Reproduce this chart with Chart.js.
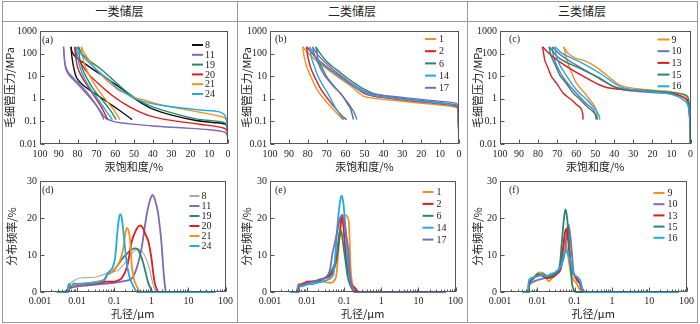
<!DOCTYPE html>
<html lang="zh">
<head>
<meta charset="UTF-8">
<title>储层毛细管压力与孔径分布</title>
<script src="https://cdn.jsdelivr.net/npm/chart.js"></script>
<style>
  body { margin: 0; background: #fff; }
  #wrap { position: relative; width: 700px; height: 324px; overflow: hidden; }
  .ln { position: absolute; background: #9a9a9a; }
  .head { position: absolute; top: 2px; height: 19px; line-height: 19px; text-align: center;
          font: 12px "Noto Sans CJK SC"; color: #222; }
  canvas { position: absolute; }
</style>
</head>
<body>
<div id="wrap">
  <div class="ln" style="left:2px;top:1px;width:696px;height:1px"></div>
  <div class="ln" style="left:2px;top:21px;width:696px;height:1px"></div>
  <div class="ln" style="left:2px;top:322px;width:696px;height:1px"></div>
  <div class="ln" style="left:2px;top:1px;width:1px;height:322px"></div>
  <div class="ln" style="left:237px;top:1px;width:1px;height:322px"></div>
  <div class="ln" style="left:467px;top:1px;width:1px;height:322px"></div>
  <div class="ln" style="left:697px;top:1px;width:1px;height:322px"></div>
  <div class="head" style="left:2px;width:235px">一类储层</div>
  <div class="head" style="left:237px;width:230px">二类储层</div>
  <div class="head" style="left:467px;width:230px">三类储层</div>
  <canvas id="ca"></canvas>
  <canvas id="cb"></canvas>
  <canvas id="cc"></canvas>
  <canvas id="cd"></canvas>
  <canvas id="ce"></canvas>
  <canvas id="cf"></canvas>
</div>

<script>
// 刻度
const pressureTicks = [0.01, 0.1, 1, 10, 100, 1000];
const pressureLabels = ['0.01', '0.1', '1', '10', '100', '1000'];
const poreTicks = [0.001, 0.01, 0.1, 1, 10, 100];
const poreLabels = ['0.001', '0.01', '0.1', '1', '10', '100'];

// 样品编号
const samplesA = ['8', '11', '19', '20', '21', '24'];
const samplesB = ['1', '2', '6', '14', '17'];
const samplesC = ['9', '10', '13', '15', '16'];

// (a) 一类储层 毛管压力曲线 [汞饱和度 %, 压力 MPa]
const a8_inj = [[0,0.01],[0.3,0.05],[1.5,0.075],[8,0.09],[17,0.11],[30,0.19],[40,0.35],[46,0.65],[51,1.2],[56,2.6],[63,6.5],[70,16],[76,35],[81,70],[83,120],[83.5,200]];
const a8_wd = [[83.5,200],[83,70],[82,22],[80.5,8.5],[77,4],[72,2],[65,0.8],[58,0.32],[51,0.12]];
const a11_inj = [[0,0.012],[0.3,0.022],[1.5,0.033],[10,0.043],[25,0.052],[40,0.063],[50,0.075],[56,0.085],[61,0.1],[65,0.14],[68,0.3],[72,0.9],[77,3],[82,8],[85,15],[86.5,30],[87,70],[87.5,200]];
const a11_wd = [[87.5,200],[87.2,80],[86.8,35],[86,18],[84,10],[80,4.5],[75,1.6],[70,0.5],[67.5,0.22],[66,0.12]];
const a19_inj = [[0,0.01],[0.3,0.05],[1.5,0.085],[5,0.1],[17,0.13],[34,0.3],[44,0.6],[50,1.2],[55,2.4],[62,8],[68,22],[74,50],[78,110],[79.5,200]];
const a19_wd = [[79.5,200],[79,70],[77.5,22],[75,8],[71.5,2.6],[67,0.9],[63,0.35],[59.5,0.12]];
const a20_inj = [[0,0.01],[0.3,0.035],[2,0.05],[15,0.075],[33,0.12],[42,0.18],[50,0.35],[55,0.6],[61,1.3],[68,4],[74,12],[78,35],[80.5,90],[81.5,200]];
const a20_wd = [[81.5,200],[81,70],[80,25],[78,10],[74.5,3.5],[70.5,1.1],[67,0.38],[64,0.12]];
const a21_inj = [[0,0.01],[0.3,0.07],[1.5,0.14],[6,0.18],[24,0.35],[36,0.55],[44,0.85],[50,1.15],[55,1.8],[59,2.7],[64,6],[68,13],[72,30],[75,70],[77,130],[78,200]];
const a21_wd = [[78,200],[77.3,70],[75.5,22],[72.5,7],[69,2.5],[65,0.9],[61,0.35],[57.5,0.12]];
const a24_inj = [[0,0.01],[0.2,0.05],[0.8,0.12],[2,0.2],[5,0.27],[15,0.32],[33,0.48],[43,0.68],[50,1.05],[55,1.9],[59,3],[63,6.5],[68,14],[72,28],[76,60],[79,120],[80.5,200]];
const a24_wd = [[80.5,200],[80,70],[78.5,22],[76,7],[72.5,2.3],[68.5,0.8],[65,0.3],[61.5,0.12]];

// (b) 二类储层
const b1_inj = [[0,0.01],[0.3,0.08],[0.8,0.38],[3,0.45],[15,0.58],[30,0.78],[45,1.05],[50,1.25],[53,1.8],[57,3.5],[62,7],[68,16],[74,40],[79,90],[82.7,200]];
const b1_wd = [[82.7,200],[82,80],[80.5,25],[78,8],[75,2.5],[70,0.7],[65,0.25],[61.5,0.12]];
const b2_inj = [[0,0.01],[0.3,0.09],[0.8,0.42],[3,0.5],[15,0.66],[30,0.9],[45,1.3],[50,1.7],[54,2.8],[59,5.5],[65,13],[71,30],[76,70],[80.6,200]];
const b2_wd = [[80.6,200],[80,75],[78.5,24],[76,8],[73,2.6],[69,0.9],[65,0.35],[62,0.18],[59.5,0.12]];
const b6_inj = [[0,0.01],[0.3,0.1],[0.8,0.48],[3,0.57],[15,0.75],[30,1.05],[45,1.7],[50,2.6],[55,4.8],[60,9.5],[65,20],[70,45],[73,90],[75.7,200]];
const b6_wd = [[75.7,200],[75,100],[74.5,49],[72,20],[70,9.3],[66,3.5],[62,1.5],[59,0.6],[57.5,0.38],[56.5,0.2],[55.8,0.12]];
const b14_inj = [[0,0.01],[0.3,0.09],[0.8,0.45],[3,0.53],[15,0.7],[30,0.95],[45,1.4],[50,1.9],[55,3.2],[60,6],[66,14],[72,32],[76,75],[79,200]];
const b14_wd = [[79,200],[78.3,80],[77,35],[75,12],[72.7,4.9],[69,1.5],[65.7,0.45],[62.5,0.18],[61,0.12]];
const b17_inj = [[0,0.01],[0.3,0.1],[0.8,0.55],[2.5,0.66],[15,0.85],[30,1.15],[45,1.6],[50,2.2],[55,3.8],[60,7.5],[66,18],[71,42],[75,95],[77.5,200]];
const b17_wd = [[77.5,200],[76.5,90],[74,30],[71.8,13],[67,4],[63,1.8],[59,0.7],[57,0.4],[55.5,0.25],[54,0.12]];

// (c) 三类储层
const c9_inj = [[0,0.01],[0.3,0.1],[1,0.6],[2.3,1.25],[8,1.9],[16,2.3],[27,2.7],[33,3.2],[38,4.5],[44,11],[50,27],[56,50],[60,62],[64,95],[66.5,200]];
const c9_wd = [[66.5,200],[65.5,80],[64.2,35],[62,12],[59.9,4.9],[56,2],[52.9,0.93],[50.5,0.5],[49.4,0.3],[48.8,0.12]];
const c10_inj = [[0,0.01],[0.3,0.1],[1,0.5],[2.3,1.0],[10,1.6],[20,1.9],[30,2.2],[38,2.8],[44,5],[50,10],[57,22],[64,50],[69,100],[72.5,200]];
const c10_wd = [[72.5,200],[71.8,70],[69.5,22],[66.5,8],[61,2.2],[55,0.65],[51,0.33],[50,0.2],[49.5,0.12]];
const c13_inj = [[0,0.01],[0.3,0.08],[1,0.45],[1.6,0.85],[7.5,1.6],[16,1.9],[25,2.2],[33,2.5],[39,2.7],[46,3.6],[54.6,8.3],[63.4,22],[72,70],[77.7,200]];
const c13_wd = [[77.7,200],[77,90],[76.4,49],[74.5,20],[72.9,9.3],[70,4.5],[66.9,1.8],[62.5,0.9],[59.9,0.56],[57.5,0.38],[56.6,0.22],[56.4,0.12]];
const c15_inj = [[0,0.01],[0.3,0.12],[0.8,0.7],[2,1.4],[10,1.9],[20,2.2],[30,2.5],[36,2.8],[41,3.7],[47.6,8.3],[58,22],[68.6,60],[74.2,200]];
const c15_wd = [[74.2,200],[73.5,100],[72.9,69],[70.5,25],[68.6,11],[65,4.5],[61.6,1.8],[57.5,0.85],[54.6,0.48],[51,0.26],[49.5,0.18],[49,0.12]];
const c16_inj = [[0,0.01],[0.3,0.08],[1,0.4],[2.5,0.75],[10,1.6],[20,2.0],[30,2.5],[35,3],[39,4.3],[47.6,13.5],[58,43],[67.2,100],[71.2,200]];
const c16_wd = [[71.2,200],[70.3,69],[68.5,30],[66.9,18],[63.5,6.5],[59.9,2.5],[55,1.0],[52,0.56],[49.5,0.3],[48,0.18],[47.6,0.12]];

// (d)(e)(f) 孔径分布 [孔径 μm, 分布频率 %]
const d8 = [[0.005,0],[0.006,1.5],[0.007,2.5],[0.009,3.3],[0.012,3.8],[0.02,3.9],[0.03,4.0],[0.045,4.5],[0.065,5.2],[0.1,5.5],[0.13,5.9],[0.2,8],[0.3,10.5],[0.42,11.6],[0.5,11.4],[0.6,10.6],[0.7,9.3],[0.85,7],[1.0,4.1],[1.15,1.5],[1.3,0.3],[1.4,0],[50,0]];
const d11 = [[0.0045,0],[0.0055,0.6],[0.007,1.2],[0.01,1.5],[0.02,1.8],[0.05,2.2],[0.1,2.5],[0.2,3.0],[0.3,3.7],[0.41,6.7],[0.55,12],[0.68,18.2],[0.85,23.5],[1.06,26.2],[1.25,25],[1.5,21.7],[1.7,17.5],[1.86,13.8],[2.05,8],[2.2,4.1],[2.4,0.6],[2.5,0],[50,0]];
const d19 = [[0.005,0],[0.0058,0],[0.006,2],[0.007,1.4],[0.009,2],[0.015,2.2],[0.03,2.6],[0.053,3.3],[0.063,4.6],[0.08,5.2],[0.1,6],[0.13,7.5],[0.18,9.5],[0.24,10.7],[0.3,11.5],[0.37,11.8],[0.43,11.5],[0.5,10.3],[0.6,8],[0.68,5.9],[0.83,2.4],[1.0,0.6],[1.1,0],[50,0]];
const d20 = [[0.0055,0],[0.006,1.8],[0.0068,1.2],[0.008,1.8],[0.012,2.0],[0.02,2.1],[0.04,2.4],[0.06,2.8],[0.1,2.8],[0.13,3.2],[0.16,3.7],[0.22,6.7],[0.3,13.8],[0.4,17],[0.5,18],[0.6,17.2],[0.7,15.5],[0.83,13.8],[1.0,9.4],[1.1,6],[1.24,2.4],[1.4,0.8],[1.6,0],[50,0]];
const d21 = [[0.005,0],[0.0058,0],[0.006,2],[0.007,1.5],[0.009,2],[0.015,2.3],[0.03,2.7],[0.055,3.4],[0.065,4.8],[0.09,5.6],[0.12,7],[0.15,9],[0.18,12.5],[0.2,16],[0.22,17.3],[0.245,16.5],[0.27,13.8],[0.3,6.7],[0.34,3.5],[0.37,2.4],[0.45,0.6],[0.5,0],[50,0]];
const d24 = [[0.0028,0],[0.0055,0],[0.006,2.2],[0.007,1.5],[0.008,2.3],[0.01,2.2],[0.02,2.3],[0.04,2.7],[0.055,3.3],[0.065,4.8],[0.075,5.6],[0.09,6.5],[0.105,9],[0.12,15.5],[0.135,20],[0.147,21],[0.16,20],[0.18,15.5],[0.22,7.6],[0.26,4],[0.3,2.4],[0.37,0.6],[0.42,0],[54,0]];

const e1 = [[0.0045,0],[0.0052,0],[0.0058,2],[0.007,2.2],[0.01,2.6],[0.015,2.7],[0.02,2.8],[0.025,3.2],[0.03,2.7],[0.04,2.5],[0.05,2.7],[0.06,4],[0.066,8],[0.072,13],[0.08,17.5],[0.09,20.5],[0.1,20.8],[0.12,20.5],[0.133,19],[0.14,14],[0.148,7],[0.16,3],[0.18,1.2],[0.22,0.3],[0.25,0],[54,0]];
const e2 = [[0.005,0],[0.0058,0],[0.006,1.8],[0.007,2],[0.01,2.8],[0.015,2.9],[0.02,3],[0.025,3.5],[0.03,3.7],[0.04,4.2],[0.05,5.5],[0.06,8],[0.065,10.3],[0.075,15],[0.085,20.4],[0.095,18],[0.1,15],[0.11,10.3],[0.125,6],[0.14,4.1],[0.16,1.9],[0.2,1],[0.22,0.4],[0.25,0],[54,0]];
const e6 = [[0.005,0],[0.0058,0],[0.006,2],[0.007,1.8],[0.01,2.4],[0.015,2.8],[0.02,3.2],[0.03,3.8],[0.04,4.8],[0.05,6.5],[0.059,8.5],[0.068,13],[0.077,16.8],[0.085,16],[0.095,12.5],[0.108,8.5],[0.125,4],[0.15,1.5],[0.18,0.3],[0.2,0],[54,0]];
const e14 = [[0.0035,0],[0.005,0],[0.0058,0.5],[0.0062,1.8],[0.007,1.5],[0.01,2],[0.015,2.2],[0.02,2.5],[0.03,3],[0.04,3.5],[0.05,4.5],[0.056,8.5],[0.065,17.3],[0.075,23.5],[0.085,26],[0.095,24],[0.108,17.3],[0.12,10],[0.133,5.9],[0.15,2.5],[0.18,0.6],[0.2,0],[54,0]];
const e17 = [[0.005,0],[0.0058,0],[0.006,1.5],[0.007,1.8],[0.01,2.3],[0.015,2.8],[0.02,3.3],[0.03,3.8],[0.04,5.5],[0.048,10.3],[0.058,14],[0.065,16.5],[0.075,19.5],[0.088,20.8],[0.1,19],[0.115,15],[0.13,11],[0.14,6],[0.155,2],[0.17,0.5],[0.19,0],[54,0]];

const f9 = [[0.0045,0],[0.0055,0],[0.006,2.5],[0.007,3.3],[0.008,3.6],[0.01,5],[0.014,5.2],[0.017,4],[0.02,2.9],[0.025,3.8],[0.03,4.5],[0.038,6],[0.045,9.5],[0.05,12.5],[0.055,14],[0.06,12.5],[0.07,8.5],[0.08,5],[0.095,3.2],[0.11,2.5],[0.13,1],[0.15,0.2],[0.17,0],[60,0]];
const f10 = [[0.005,0],[0.0058,0],[0.0062,2],[0.008,2.8],[0.01,3.2],[0.014,3.6],[0.02,4],[0.025,4],[0.03,4.5],[0.04,5.5],[0.047,8],[0.054,10.3],[0.06,15],[0.067,18.2],[0.075,16],[0.085,10.3],[0.095,5],[0.11,3.8],[0.13,3.2],[0.15,0.6],[0.17,0],[60,0]];
const f13 = [[0.005,0],[0.0058,0],[0.006,2.2],[0.008,3.8],[0.01,4.8],[0.013,4.5],[0.017,3.8],[0.02,3.8],[0.025,4],[0.03,4.5],[0.04,6],[0.048,11],[0.055,16],[0.06,17],[0.067,14],[0.075,9],[0.085,5.5],[0.1,4.5],[0.12,3],[0.14,2.4],[0.16,1],[0.18,0.2],[0.2,0],[60,0]];
const f15 = [[0.0045,0],[0.0058,0],[0.006,2.5],[0.008,3.8],[0.01,4.5],[0.014,4.8],[0.02,4.2],[0.025,4.5],[0.03,5],[0.038,5.9],[0.045,12.9],[0.052,20],[0.057,22.3],[0.063,20],[0.072,12.9],[0.08,6],[0.085,2.4],[0.095,0.5],[0.11,0],[60,0]];
const f16 = [[0.004,0],[0.0055,0],[0.006,3.2],[0.007,3.8],[0.01,4.2],[0.014,4.6],[0.018,4.2],[0.022,4.8],[0.03,5.3],[0.042,6.8],[0.05,9.5],[0.057,11.3],[0.065,10.5],[0.077,8.5],[0.09,5.5],[0.1,4.6],[0.12,4],[0.14,3.2],[0.155,1.5],[0.165,0.3],[0.18,0],[60,0]];

const C = { black: '#111111', purple: '#7d69b9', green: '#2a8769', red: '#e31a1c',
            orange: '#f5901e', cyan: '#21aae6', gray: '#a8a8a8' };
const colorsA = [C.black, C.purple, C.green, C.red, C.orange, C.cyan];
const colorsD = [C.gray, C.purple, C.green, C.red, C.orange, C.cyan];
const colorsB = [C.orange, C.red, C.green, C.cyan, C.purple];
const colorsC = [C.orange, C.purple, C.red, C.green, C.cyan];

const serif = '"Liberation Serif", "Times New Roman", serif';
const cjk = '"Noto Sans CJK SC", sans-serif';

const pts = arr => arr.map(([x, y]) => ({ x, y }));

function capSets(curves, colors) {
  const sets = [];
  curves.forEach((c, i) => {
    [c[0], c[1]].forEach(line => sets.push({
      data: pts(line), borderColor: colors[i], borderWidth: 1.4, order: curves.length - i
    }));
  });
  return sets;
}
function poreSets(curves, colors) {
  return curves.map((c, i) => ({
    data: pts(c), borderColor: colors[i], borderWidth: colors[i] === C.gray ? 1.1 : 1.8,
    order: curves.length - i, clip: 3
  }));
}

// 画框、内向刻度、图号与图例
const framePlugin = {
  id: 'frame',
  afterDraw(chart, args, o) {
    const { ctx, chartArea: a, scales } = chart;
    const L = Math.round(a.left) + 0.5, R = Math.round(a.right) - 0.5;
    const T = Math.round(a.top) + 0.5, B = Math.round(a.bottom) - 0.5;
    ctx.save();
    ctx.strokeStyle = '#555'; ctx.lineWidth = 1;
    ctx.strokeRect(L, T, R - L, B - T);
    ctx.beginPath();
    scales.x.ticks.forEach(t => {
      const px = Math.round(scales.x.getPixelForValue(t.value)) + 0.5;
      ctx.moveTo(px, B); ctx.lineTo(px, B - 4);
    });
    if (o.minorX) {
      for (let d = 0.001; d < 100; d *= 10) {
        for (let k = 2; k <= 9; k++) {
          const px = Math.round(scales.x.getPixelForValue(d * k)) + 0.5;
          ctx.moveTo(px, B); ctx.lineTo(px, B - 2);
        }
      }
    }
    scales.y.ticks.forEach(t => {
      const py = Math.round(scales.y.getPixelForValue(t.value)) + 0.5;
      ctx.moveTo(L, py); ctx.lineTo(L + 4, py);
    });
    ctx.stroke();

    ctx.fillStyle = '#222';
    ctx.font = '10px ' + serif;
    ctx.textBaseline = 'middle'; ctx.textAlign = 'left';
    ctx.fillText(o.tag, a.left + o.tagX, a.top + o.tagY);

    o.labels.forEach((lab, i) => {
      const y = a.top + o.legY + i * o.legStep;
      ctx.strokeStyle = o.colors[i]; ctx.lineWidth = 2;
      ctx.beginPath();
      ctx.moveTo(a.right - o.legX1, y); ctx.lineTo(a.right - o.legX2, y);
      ctx.stroke();
      ctx.fillText(lab, a.right - o.legTx, y + 0.5);
    });
    ctx.restore();
  }
};

function panel(id, box, area, o) {
  const cv = document.getElementById(id);
  cv.width = box.w; cv.height = box.h;
  cv.style.left = box.x + 'px'; cv.style.top = box.y + 'px';
  const lh = 11 * 1.2;
  const bottom = box.y + box.h;
  new Chart(cv, {
    type: 'scatter',
    data: { datasets: o.datasets },
    options: {
      responsive: false, animation: false, devicePixelRatio: 1,
      showLine: true,
      elements: { point: { radius: 0 }, line: { tension: 0.35 } },
      layout: { padding: { left: 0, top: area.t - box.y, right: box.x + box.w - area.r, bottom: 0 } },
      plugins: { legend: { display: false }, tooltip: { enabled: false }, frame: o.frame },
      scales: {
        x: Object.assign({
          grid: { display: false, drawTicks: false }, border: { display: false },
          afterFit: s => { s.height = bottom - area.b; },
          title: { display: true, text: o.xTitle, color: '#222', font: { family: cjk, size: 11 },
                   padding: { top: 0, bottom: bottom - o.xTitleY - lh / 2 } }
        }, o.x),
        y: Object.assign({
          grid: { display: false, drawTicks: false }, border: { display: false },
          afterFit: s => { s.width = area.l - box.x; },
          title: { display: true, text: o.yTitle, color: '#222', font: { family: cjk, size: 11 },
                   padding: { top: o.yTitleX - box.x - lh / 2, bottom: 0 } }
        }, o.y)
      }
    },
    plugins: [framePlugin]
  });
}

const tickFont = { family: serif, size: 10 };
const satAxis = { type: 'linear', min: 0, max: 100, reverse: true,
  ticks: { stepSize: 10, padding: 4, color: '#222', font: tickFont, maxRotation: 0, autoSkip: false } };
const pressAxis = { type: 'logarithmic', min: 0.01, max: 1000,
  afterBuildTicks: s => { s.ticks = pressureTicks.map(v => ({ value: v })); },
  ticks: { padding: 3, color: '#222', font: tickFont, callback: v => pressureLabels[pressureTicks.indexOf(v)] } };
const poreAxis = { type: 'logarithmic', min: 0.001, max: 100,
  afterBuildTicks: s => { s.ticks = poreTicks.map(v => ({ value: v })); },
  ticks: { padding: 3, color: '#222', font: tickFont, maxRotation: 0, autoSkip: false,
           callback: v => poreLabels[poreTicks.indexOf(v)] } };
const freqAxis = { type: 'linear', min: 0, max: 30,
  ticks: { stepSize: 10, padding: 3, color: '#222', font: tickFont } };

const topTitles = { xTitle: '汞饱和度/%', yTitle: '毛细管压力/MPa', xTitleY: 167, x: satAxis, y: pressAxis };
const botTitles = { xTitle: '孔径/μm', yTitle: '分布频率/%', xTitleY: 314, x: poreAxis, y: freqAxis };

panel('ca', { x: 3, y: 22, w: 233, h: 152 }, { l: 40, t: 28, r: 228, b: 144 }, Object.assign({}, topTitles, {
  yTitleX: 10,
  datasets: capSets([[a8_inj, a8_wd], [a11_inj, a11_wd], [a19_inj, a19_wd], [a20_inj, a20_wd], [a21_inj, a21_wd], [a24_inj, a24_wd]], colorsA),
  frame: { tag: '(a)', tagX: 2, tagY: 9, labels: samplesA, colors: colorsA,
           legY: 14, legStep: 9.8, legX1: 36, legX2: 25, legTx: 23 }
}));
panel('cb', { x: 238, y: 22, w: 228, h: 152 }, { l: 270, t: 28, r: 459, b: 144 }, Object.assign({}, topTitles, {
  yTitleX: 247,
  datasets: capSets([[b1_inj, b1_wd], [b2_inj, b2_wd], [b6_inj, b6_wd], [b14_inj, b14_wd], [b17_inj, b17_wd]], colorsB),
  frame: { tag: '(b)', tagX: 5, tagY: 8, labels: samplesB, colors: colorsB,
           legY: 8, legStep: 12.2, legX1: 34, legX2: 23, legTx: 20 }
}));
panel('cc', { x: 468, y: 22, w: 229, h: 152 }, { l: 500, t: 28, r: 691, b: 144 }, Object.assign({}, topTitles, {
  yTitleX: 478,
  datasets: capSets([[c9_inj, c9_wd], [c10_inj, c10_wd], [c13_inj, c13_wd], [c15_inj, c15_wd], [c16_inj, c16_wd]], colorsC),
  frame: { tag: '(c)', tagX: 9, tagY: 8, labels: samplesC, colors: colorsC,
           legY: 8.5, legStep: 11.7, legX1: 33, legX2: 21, legTx: 19 }
}));
panel('cd', { x: 3, y: 172, w: 233, h: 150 }, { l: 40, t: 178, r: 228, b: 292 }, Object.assign({}, botTitles, {
  yTitleX: 12,
  datasets: poreSets([d8, d11, d19, d20, d21, d24], colorsD),
  frame: { tag: '(d)', tagX: 2, tagY: 9, labels: samplesA, colors: colorsD, minorX: true,
           legY: 15, legStep: 10, legX1: 36, legX2: 26, legTx: 24 }
}));
panel('ce', { x: 238, y: 172, w: 228, h: 150 }, { l: 270, t: 178, r: 458, b: 292 }, Object.assign({}, botTitles, {
  yTitleX: 247,
  datasets: poreSets([e1, e2, e6, e14, e17], colorsB),
  frame: { tag: '(e)', tagX: 5, tagY: 9, labels: samplesB, colors: colorsB, minorX: true,
           legY: 11, legStep: 11.9, legX1: 33, legX2: 22, legTx: 19 }
}));
panel('cf', { x: 468, y: 172, w: 229, h: 150 }, { l: 500, t: 178, r: 690, b: 292 }, Object.assign({}, botTitles, {
  yTitleX: 478,
  datasets: poreSets([f9, f10, f13, f15, f16], colorsC),
  frame: { tag: '(f)', tagX: 9, tagY: 9, labels: samplesC, colors: colorsC, minorX: true,
           legY: 12, legStep: 11.2, legX1: 33, legX2: 22, legTx: 19 }
}));
</script>
</body>
</html>
